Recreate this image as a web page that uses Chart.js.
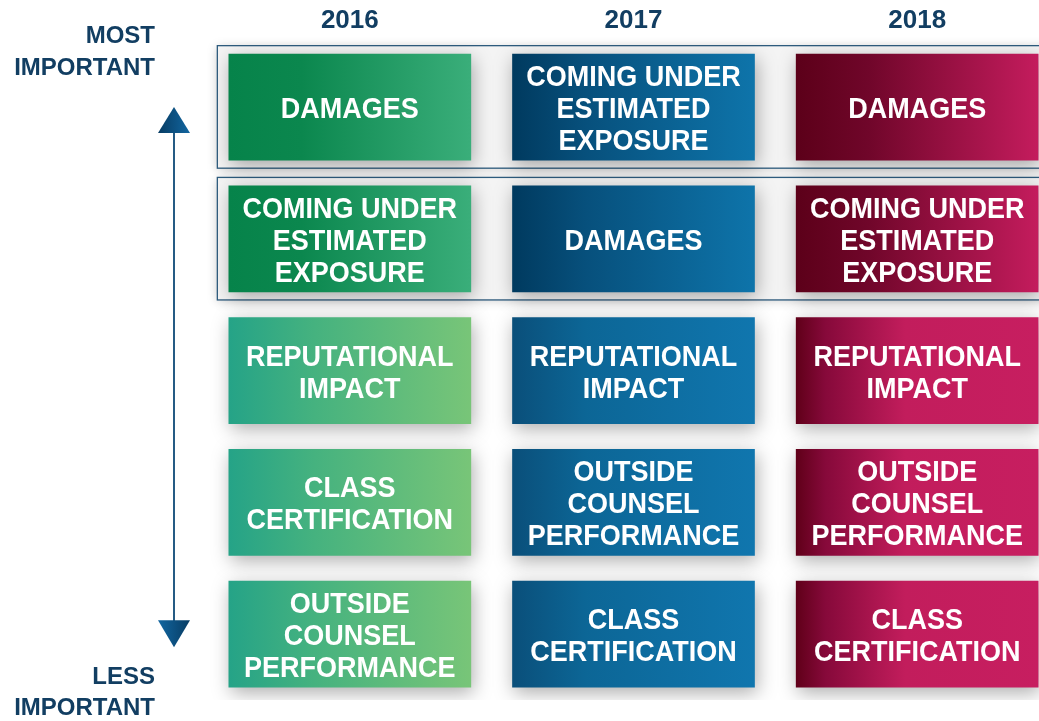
<!DOCTYPE html>
<html>
<head>
<meta charset="utf-8">
<script src="https://cdn.jsdelivr.net/npm/chart.js@4"></script>
<style>
  html, body { margin: 0; padding: 0; overflow: hidden; background: #ffffff; }
  #wrap { width: 1070px; height: 721px; position: relative; }
</style>
</head>
<body>
<div id="wrap"><canvas id="rankChart"></canvas></div>
<script>
// --- data ---
const years = ['2016', '2017', '2018'];
const ranks = [1, 2, 3, 4, 5];
const ranking2016 = ['DAMAGES', 'COMING UNDER ESTIMATED EXPOSURE', 'REPUTATIONAL IMPACT', 'CLASS CERTIFICATION', 'OUTSIDE COUNSEL PERFORMANCE'];
const ranking2017 = ['COMING UNDER ESTIMATED EXPOSURE', 'DAMAGES', 'REPUTATIONAL IMPACT', 'OUTSIDE COUNSEL PERFORMANCE', 'CLASS CERTIFICATION'];
const ranking2018 = ['DAMAGES', 'COMING UNDER ESTIMATED EXPOSURE', 'REPUTATIONAL IMPACT', 'OUTSIDE COUNSEL PERFORMANCE', 'CLASS CERTIFICATION'];
const topLabel = ['MOST', 'IMPORTANT'];
const bottomLabel = ['LESS', 'IMPORTANT'];
const highlightedRanks = [1, 2];

const rankings = [ranking2016, ranking2017, ranking2018];
const NAVY = '#123e62';
const CELL_HALF = 0.403;

// gradient stops per year: [top rows, lower rows]
const palettes = [
    [[[0, '#06834a'], [0.3, '#0b874e'], [1, '#3aae7a']],
     [[0, '#25a387'], [0.35, '#45b27f'], [1, '#78c578']]],
    [[[0, '#003a5f'], [0.3, '#07507c'], [1, '#0e74aa']],
     [[0, '#0a4f7a'], [0.3, '#0c6696'], [1, '#1076ae']]],
    [[[0, '#5c0019'], [0.3, '#70062a'], [1, '#c41c5d']],
     [[0, '#600019'], [0.12, '#86093a'], [0.45, '#c21d5c'], [1, '#c71e60']]]
];

function cellGradient(ctx) {
    const chart = ctx.chart;
    const xScale = chart.scales.x;
    if (!xScale || !chart.chartArea) return '#888';
    const cx = xScale.getPixelForValue(ctx.dataIndex);
    const half = 121;
    const g = chart.ctx.createLinearGradient(cx - half, 0, cx + half, 0);
    const top = highlightedRanks.includes(ranks[ctx.datasetIndex]);
    palettes[ctx.dataIndex][top ? 0 : 1].forEach(s => g.addColorStop(s[0], s[1]));
    return g;
}

function wrapText(c, text, maxW) {
    const words = text.split(' ');
    const lines = [];
    let line = '';
    words.forEach(w => {
        const test = line ? line + ' ' + w : w;
        if (line && c.measureText(test).width > maxW) {
            lines.push(line);
            line = w;
        } else {
            line = test;
        }
    });
    if (line) lines.push(line);
    return lines;
}

const shadowPlugin = {
    id: 'cellShadow',
    beforeDatasetsDraw(chart) {
        const c = chart.ctx;
        const x = chart.scales.x, y = chart.scales.y;
        c.save();
        // outline boxes around the top two rows
        highlightedRanks.forEach(r => {
            const top = y.getPixelForValue(r - 0.47);
            const bot = y.getPixelForValue(r + 0.46);
            const left = x.getPixelForValue(0) - 133;
            c.save();
            c.shadowColor = 'rgba(0,0,0,0.18)';
            c.shadowBlur = 10;
            c.shadowOffsetY = 2;
            c.fillStyle = '#f4f4f4';
            c.fillRect(left, top, chart.width - left + 10, bot - top);
            c.restore();
            c.strokeStyle = '#2d5b7d';
            c.lineWidth = 1.3;
            c.strokeRect(left + 0.5, top + 0.5, chart.width, bot - top);
        });
        c.restore();
    },
    beforeDatasetDraw(chart) {
        const c = chart.ctx;
        c.save();
        c.shadowColor = 'rgba(0,0,0,0.32)';
        c.shadowBlur = 18;
        c.shadowOffsetX = 2;
        c.shadowOffsetY = 5;
    },
    afterDatasetDraw(chart) {
        chart.ctx.restore();
    },
    afterDatasetsDraw(chart) {
        const c = chart.ctx;
        const y = chart.scales.y;
        const area = chart.chartArea;
        c.save();
        c.fillStyle = '#ffffff';
        c.font = 'bold 27px "Liberation Sans", Arial, sans-serif';
        c.textAlign = 'center';
        c.textBaseline = 'middle';
        chart.data.datasets.forEach((ds, di) => {
            const meta = chart.getDatasetMeta(di);
            meta.data.forEach((el, yi) => {
                const lines = wrapText(c, rankings[yi][di], 228);
                const cy = (el.y + el.base) / 2;
                const lh = 32;
                lines.forEach((ln, li) => {
                    const ty = cy + (li - (lines.length - 1) / 2) * lh + 3;
                    c.save();
                    c.translate(el.x, ty);
                    c.scale(1, 1.08);
                    c.fillText(ln, 0, 0);
                    c.restore();
                });
            });
        });

        // importance arrow
        const ax = area.left - 34;
        const yTop = y.getPixelForValue(1.0);
        const yBot = y.getPixelForValue(5.1);
        c.strokeStyle = '#255b84';
        c.lineWidth = 2;
        c.beginPath();
        c.moveTo(ax, yTop + 20);
        c.lineTo(ax, yBot - 20);
        c.stroke();
        const head = (tipY, baseY, dark, light) => {
            const g = c.createLinearGradient(ax - 16, 0, ax + 16, 0);
            g.addColorStop(0, dark);
            g.addColorStop(1, light);
            c.fillStyle = g;
            c.beginPath();
            c.moveTo(ax, tipY);
            c.lineTo(ax - 16, baseY);
            c.lineTo(ax + 16, baseY);
            c.closePath();
            c.fill();
        };
        head(yTop, yTop + 26, '#073c63', '#1266a0');
        head(yBot, yBot - 27, '#1266a0', '#073c63');

        // importance labels
        c.fillStyle = NAVY;
        c.font = 'bold 24px "Liberation Sans", Arial, sans-serif';
        c.textAlign = 'right';
        c.textBaseline = 'middle';
        const lx = area.left - 53;
        topLabel.forEach((t, i) => c.fillText(t, lx, 36 + i * 32));
        bottomLabel.forEach((t, i) => c.fillText(t, lx, 677 + i * 31));
        c.restore();
    }
};

const datasets = ranks.map(r => ({
    label: 'Rank ' + r,
    data: years.map(() => [r - CELL_HALF, r + CELL_HALF]),
    backgroundColor: cellGradient,
    borderWidth: 0,
    borderSkipped: false,
    barThickness: 242,
    grouped: false,
}));

new Chart(document.getElementById('rankChart'), {
    type: 'bar',
    data: { labels: years, datasets: datasets },
    plugins: [shadowPlugin],
    options: {
        responsive: true,
        maintainAspectRatio: false,
        animation: false,
        layout: { padding: { left: 208, right: 11, top: 0, bottom: 21 } },
        plugins: {
            legend: { display: false },
            tooltip: { enabled: false }
        },
        scales: {
            x: {
                position: 'top',
                offset: true,
                grid: { display: false, drawTicks: false },
                border: { display: false },
                ticks: {
                    color: NAVY,
                    padding: 5,
                    font: { family: '"Liberation Sans", Arial, sans-serif', size: 26, weight: 'bold' }
                }
            },
            y: {
                display: false,
                reverse: true,
                min: 0.5,
                max: 5.5
            }
        }
    }
});
</script>
</body>
</html>
